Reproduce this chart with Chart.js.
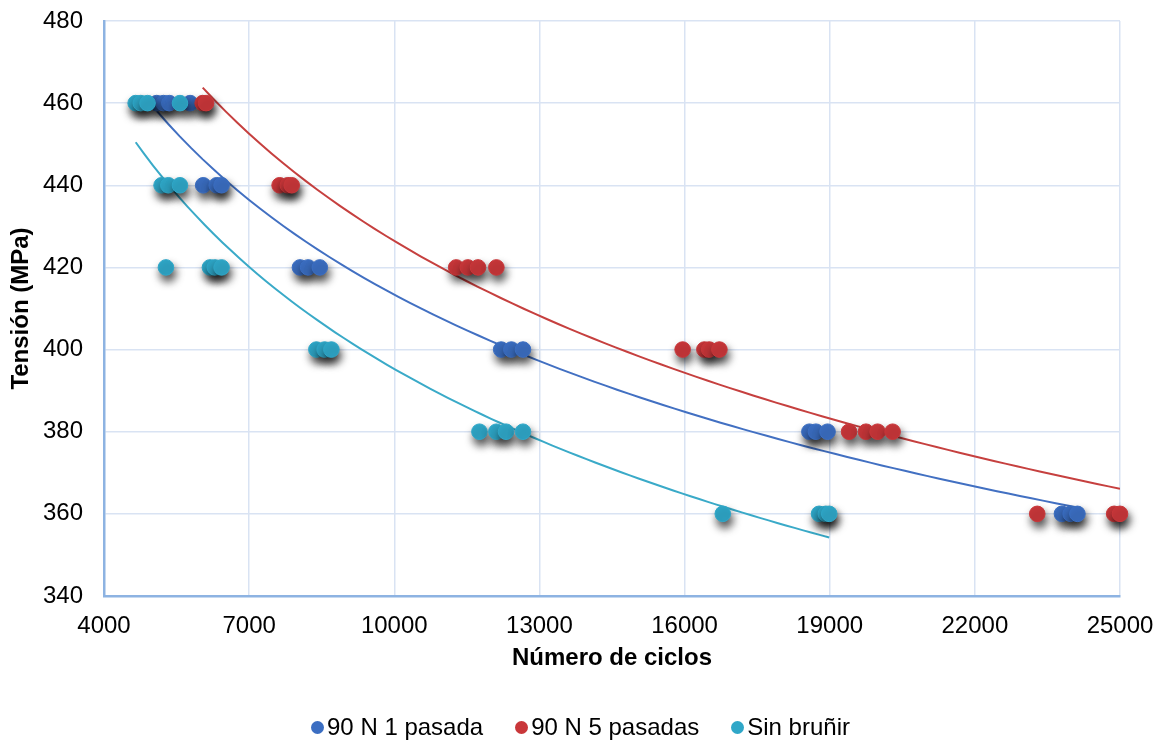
<!DOCTYPE html>
<html><head><meta charset="utf-8">
<script src="https://cdn.jsdelivr.net/npm/chart.js@4.4.0/dist/chart.umd.min.js"></script>
<style>
html,body{margin:0;padding:0;background:#fff;}
#wrap{position:relative;width:1161px;height:740px;overflow:hidden;}
canvas{position:absolute;left:0;top:0;}
#legend{position:absolute;left:0;top:713px;width:1161px;display:flex;justify-content:center;font:24px "Liberation Sans",Arial,sans-serif;line-height:28px;color:#000;}
.item{display:flex;align-items:center;margin:0 16px;}
.dot{width:13px;height:13px;border-radius:50%;margin-right:3px;}
</style></head>
<body><div id="wrap"><canvas id="c" width="1161" height="740"></canvas><div id="legend"></div></div>
<script>
// ---- data ----
const seriesNames = ['90 N 1 pasada', '90 N 5 pasadas', 'Sin bruñir'];
const seriesColors = ['#3b6ec2', '#c9373a', '#2fa7c8'];
const lineColors = ['#4270c2', '#c6403f', '#3aaac8'];

const blueX = [5090, 5230, 5350, 5780, 6050, 6330, 6430, 8050, 8220, 8460, 12210, 12420, 12660, 18580, 18715, 18955, 23800, 23980, 24120];
const blueY = [460, 460, 460, 460, 440, 440, 440, 420, 420, 420, 400, 400, 400, 380, 380, 380, 360, 360, 360];

const redX = [6040, 6110, 7630, 7800, 7880, 11280, 11520, 11730, 12110, 15960, 16410, 16510, 16720, 19400, 19750, 19990, 20300, 23290, 24880, 25000];
const redY = [460, 460, 440, 440, 440, 420, 420, 420, 420, 400, 400, 400, 400, 380, 380, 380, 380, 360, 360, 360];

const cyanX = [4655, 4760, 4900, 5570, 5190, 5330, 5570, 5280, 6190, 6290, 6430, 8390, 8560, 8700, 11760, 12110, 12310, 12660, 16790, 18780, 18920, 18990];
const cyanY = [460, 460, 460, 460, 440, 440, 440, 420, 420, 420, 420, 400, 400, 400, 380, 380, 380, 380, 360, 360, 360, 360];

const xTicks = [4000, 7000, 10000, 13000, 16000, 19000, 22000, 25000];
const yTicks = [340, 360, 380, 400, 420, 440, 460, 480];

// ---- helpers ----
function toPoints(xs, ys) { return xs.map((x, i) => ({x: x, y: ys[i]})); }
function powerTrend(xs, ys) {
  const n = xs.length;
  const lx = xs.map(Math.log), ly = ys.map(Math.log);
  const mx = lx.reduce((a, b) => a + b, 0) / n, my = ly.reduce((a, b) => a + b, 0) / n;
  let sxy = 0, sxx = 0;
  for (let i = 0; i < n; i++) { sxy += (lx[i] - mx) * (ly[i] - my); sxx += (lx[i] - mx) ** 2; }
  const b = sxy / sxx, a = Math.exp(my - b * mx);
  const x0 = Math.min(...xs), x1 = Math.max(...xs);
  const pts = [];
  const N = 80;
  for (let i = 0; i <= N; i++) { const x = x0 + (x1 - x0) * i / N; pts.push({x: x, y: a * Math.pow(x, b)}); }
  return pts;
}

const allX = [blueX, redX, cyanX], allY = [blueY, redY, cyanY];
const datasets = [];
for (let s = 0; s < 3; s++) {
  datasets.push({
    label: seriesNames[s], data: toPoints(allX[s], allY[s]), showLine: false,
    backgroundColor: seriesColors[s], borderColor: seriesColors[s], borderWidth: 1,
    pointRadius: 7.8, pointHoverRadius: 7.8, order: 3 - s, clip: false, shadow: true
  });
}
for (let s = 0; s < 3; s++) {
  datasets.push({
    label: seriesNames[s] + ' trend', data: powerTrend(allX[s], allY[s]), showLine: true,
    borderColor: lineColors[s], borderWidth: 2, pointRadius: 0, tension: 0, order: 10, fill: false
  });
}

const shadowPlugin = {
  id: 'shadow',
  beforeDatasetDraw(chart, args) {
    if (chart.data.datasets[args.index].shadow) {
      const ctx = chart.ctx; ctx.save();
      ctx.shadowColor = 'rgba(0,0,0,0.7)'; ctx.shadowBlur = 8; ctx.shadowOffsetX = 2; ctx.shadowOffsetY = 6;
    }
  },
  afterDatasetDraw(chart, args) {
    if (chart.data.datasets[args.index].shadow) chart.ctx.restore();
  }
};

function zeroPad(sc) { sc.paddingTop = 0; sc.paddingBottom = 0; sc.paddingLeft = 0; sc.paddingRight = 0; }

Chart.defaults.font.family = '"Liberation Sans", Arial, sans-serif';
Chart.defaults.color = '#000';

new Chart(document.getElementById('c'), {
  type: 'scatter',
  data: { datasets: datasets },
  plugins: [shadowPlugin],
  options: {
    responsive: false, animation: false, devicePixelRatio: 1,
    layout: { padding: { top: 21, right: 41, bottom: 0, left: 0 } },
    plugins: { legend: { display: false }, tooltip: { enabled: false } },
    scales: {
      x: {
        type: 'linear', min: xTicks[0], max: xTicks[xTicks.length - 1],
        afterBuildTicks: (sc) => { sc.ticks = xTicks.map(v => ({value: v})); },
        afterFit: (sc) => { sc.height = 144; zeroPad(sc); },
        ticks: { font: { size: 24 }, padding: 16, color: '#000', callback: (v) => String(v) },
        grid: { color: '#d9e3f3', lineWidth: 1.5, drawTicks: false },
        border: { color: '#8db3e2', width: 2.5 },
        title: { display: true, text: 'Número de ciclos', font: { size: 24, weight: 'bold' }, color: '#000', padding: { top: 0, bottom: 67 } }
      },
      y: {
        type: 'linear', min: yTicks[0], max: yTicks[yTicks.length - 1],
        afterBuildTicks: (sc) => { sc.ticks = yTicks.map(v => ({value: v})); },
        afterFit: (sc) => { sc.width = 104; zeroPad(sc); },
        ticks: { font: { size: 24 }, padding: 21, color: '#000', callback: (v) => String(v) },
        grid: { color: '#d9e3f3', lineWidth: 1.5, drawTicks: false },
        border: { color: '#8db3e2', width: 2.5 },
        title: { display: true, text: 'Tensión (MPa)', font: { size: 24, weight: 'bold' }, color: '#000', padding: { top: 7, bottom: 0 } }
      }
    }
  }
});

// HTML legend
const leg = document.getElementById('legend');
seriesNames.forEach((n, i) => {
  const it = document.createElement('div'); it.className = 'item';
  const d = document.createElement('span'); d.className = 'dot'; d.style.background = seriesColors[i];
  const t = document.createElement('span'); t.textContent = n;
  it.appendChild(d); it.appendChild(t); leg.appendChild(it);
});
</script>
</body></html>
